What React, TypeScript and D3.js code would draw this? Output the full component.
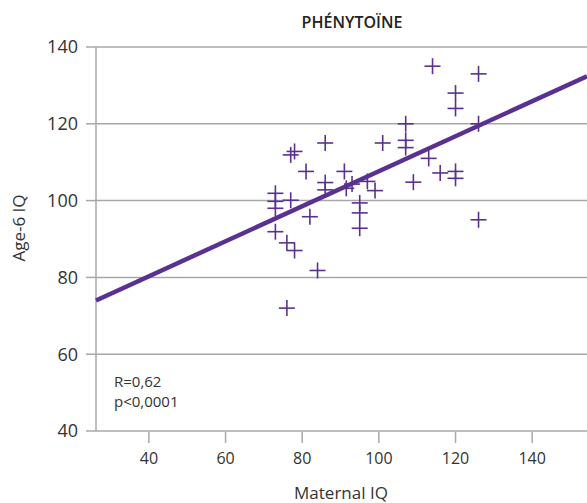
import React from "react";
import * as d3 from "d3";

const maternalIQ = [114, 126, 120, 120, 126, 107, 107, 107, 101, 86, 78, 77, 113, 116, 120, 120, 109, 126, 81, 91, 86, 86, 91.5, 93, 97, 99, 95, 95, 95, 73, 73, 73, 73, 77, 82, 76, 78, 84, 76];
const childIQ = [135, 133, 128, 124, 120, 120, 115.7, 113.8, 115, 115, 112.8, 111.9, 111, 107.2, 107.6, 105.8, 104.8, 95, 107.6, 107.6, 104.7, 102.8, 103.2, 104.3, 105, 102.6, 99.4, 96.8, 92.8, 101.9, 99.8, 98, 91.9, 100.1, 95.8, 89, 87, 81.8, 72];
const xTicks = [40, 60, 80, 100, 120, 140];
const yTicks = [40, 60, 80, 100, 120, 140];
const fitLine = [
  { x: 26.2, y: 74.0 },
  { x: 154.3, y: 132.4 },
];
const titleText = "PHÉNYTOÏNE";
const xLabel = "Maternal IQ";
const yLabel = "Age-6 IQ";
const statLines = ["R=0,62", "p<0,0001"];

const W = 587;
const H = 503;
const PURPLE = "#5a3190";
const GRID = "#a8a8a8";
const TEXT = "#333333";
const FONT = "'Open Sans', sans-serif";

export default function App() {
  const x = d3.scaleLinear().domain([26.2, 154.3]).range([96, 587]);
  const y = d3.scaleLinear().domain([40, 140]).range([431, 47]);
  const line = d3
    .line<{ x: number; y: number }>()
    .x((d) => x(d.x))
    .y((d) => y(d.y));
  const s = 8;
  return (
    <svg
      width={W}
      height={H}
      style={{ position: "absolute", left: 0, top: 0, background: "#fff" }}
      fontFamily={FONT}
    >
      <rect width={W} height={H} fill="#fff" />
      {yTicks.map((t) => (
        <g key={"y" + t}>
          {t > 40 && (
            <line x1={96} x2={587} y1={y(t)} y2={y(t)} stroke={GRID} strokeWidth={1.5} />
          )}
          <line x1={86} x2={96} y1={y(t)} y2={y(t)} stroke={GRID} strokeWidth={1.5} />
          <text x={78} y={y(t)} dy="0.35em" textAnchor="end" fontSize={18} fill={TEXT}>
            {t}
          </text>
        </g>
      ))}
      <line x1={96} x2={587} y1={431} y2={431} stroke={GRID} strokeWidth={1.5} />
      <line x1={96} x2={96} y1={47} y2={431} stroke={GRID} strokeWidth={1.5} />
      {xTicks.map((t) => (
        <g key={"x" + t}>
          <line x1={x(t)} x2={x(t)} y1={432} y2={443} stroke={GRID} strokeWidth={1.5} />
          <text x={x(t)} y={464} textAnchor="middle" fontSize={16} fill={TEXT}>
            {t}
          </text>
        </g>
      ))}
      {maternalIQ.map((m, i) => (
        <g key={"p" + i} stroke={PURPLE} strokeWidth={1.6}>
          <line x1={x(m) - s} x2={x(m) + s} y1={y(childIQ[i])} y2={y(childIQ[i])} />
          <line x1={x(m)} x2={x(m)} y1={y(childIQ[i]) - s} y2={y(childIQ[i]) + s} />
        </g>
      ))}
      <path d={line(fitLine) || ""} stroke={PURPLE} strokeWidth={4.5} fill="none" />
      <text x={352} y={28} textAnchor="middle" fontSize={16} fontWeight={600} fill="#222">
        {titleText}
      </text>
      <text x={341} y={499} textAnchor="middle" fontSize={17} fill={TEXT}>
        {xLabel}
      </text>
      <text
        transform={`translate(25,228) rotate(-90)`}
        textAnchor="middle"
        fontSize={17}
        fill={TEXT}
      >
        {yLabel}
      </text>
      {statLines.map((l, i) => (
        <text key={l} x={114} y={387 + i * 20} fontSize={15} fill={TEXT}>
          {l}
        </text>
      ))}
    </svg>
  );
}
